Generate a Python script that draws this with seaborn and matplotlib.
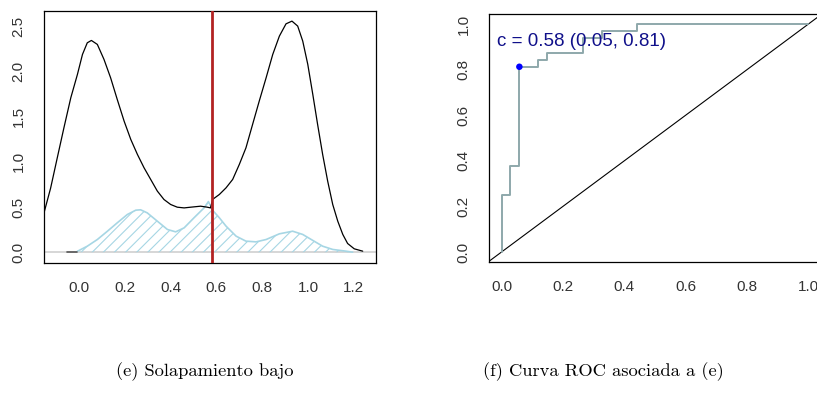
import numpy as np
import pandas as pd
import matplotlib
matplotlib.use("Agg")
import matplotlib.pyplot as plt
import seaborn as sns

# ---------------- data ----------------
# Left panel: black density curve
dens_x = [-0.153, -0.124, -0.095, -0.066, -0.036, -0.007, 0.015, 0.036, 0.054, 0.080,
          0.109, 0.138, 0.167, 0.197, 0.226, 0.255, 0.284, 0.313, 0.342, 0.371,
          0.400, 0.429, 0.459, 0.488, 0.531, 0.560, 0.574, 0.584, 0.613, 0.642,
          0.671, 0.700, 0.729, 0.758, 0.787, 0.817, 0.846, 0.875, 0.904, 0.930,
          0.955, 0.977, 0.999, 1.021, 1.042, 1.064, 1.086, 1.108, 1.130, 1.152,
          1.173, 1.202, 1.239]
dens_y = [0.435, 0.710, 1.045, 1.377, 1.709, 1.968, 2.189, 2.318, 2.344, 2.300,
          2.134, 1.930, 1.690, 1.450, 1.248, 1.082, 0.934, 0.805, 0.676, 0.583,
          0.528, 0.498, 0.490, 0.498, 0.509, 0.498, 0.490, 0.585, 0.639, 0.712,
          0.805, 0.971, 1.155, 1.414, 1.672, 1.930, 2.189, 2.392, 2.528, 2.558,
          2.503, 2.337, 2.080, 1.746, 1.414, 1.082, 0.786, 0.528, 0.343, 0.196,
          0.096, 0.037, 0.011]

# Left panel: light-blue hatched density
blue_x = [-0.007, 0.036, 0.080, 0.124, 0.167, 0.211, 0.248, 0.269, 0.298, 0.342,
          0.386, 0.422, 0.459, 0.502, 0.546, 0.565, 0.584, 0.613, 0.642, 0.686,
          0.729, 0.773, 0.817, 0.875, 0.933, 0.977, 1.021, 1.064, 1.108, 1.166,
          1.195]
blue_y = [0.010, 0.066, 0.140, 0.232, 0.325, 0.417, 0.465, 0.469, 0.435, 0.343,
          0.251, 0.225, 0.269, 0.380, 0.490, 0.560, 0.462, 0.380, 0.288, 0.177,
          0.122, 0.114, 0.140, 0.203, 0.232, 0.196, 0.130, 0.066, 0.030, 0.011,
          0.000]

# short dark tail on the baseline (left)
tail_x = [-0.051, -0.007]
tail_y = [0.0, 0.0]

cutoff = 0.58

dens_xticks = [0.0, 0.2, 0.4, 0.6, 0.8, 1.0, 1.2]
dens_yticks = [0.0, 0.5, 1.0, 1.5, 2.0, 2.5]

# Right panel: ROC curve (step function)
roc_fpr = [0.0, 0.0, 0.029, 0.058, 0.119, 0.149, 0.266, 0.326, 0.442, 1.0]
roc_tpr = [0.0, 0.25, 0.375, 0.8125, 0.84375, 0.875, 0.9375, 0.96875, 1.0, 1.0]

opt_point_x = [0.058]
opt_point_y = [0.8125]
opt_label = "c = 0.58 (0.05, 0.81)"
opt_label_pos = (-0.015, 0.922)

roc_ticks = [0.0, 0.2, 0.4, 0.6, 0.8, 1.0]

captions = ["(e) Solapamiento bajo", "(f) Curva ROC asociada a (e)"]

# ---------------- style ----------------
sns.set_style("white")
plt.rcParams["font.family"] = ["Liberation Sans", "DejaVu Sans"]
plt.rcParams["hatch.color"] = "#a6d6e4"
plt.rcParams["hatch.linewidth"] = 0.8

W, H = 817, 400
fig = plt.figure(figsize=(W / 100, H / 100), dpi=100)

def px_axes(l, t, r, b):
    return [l / W, 1 - b / H, (r - l) / W, (b - t) / H]

ax1 = fig.add_axes(px_axes(44, 11, 376, 263))
ax2 = fig.add_axes(px_axes(489, 14, 821, 262))

tick_col = "#333333"
for ax in (ax1, ax2):
    for s in ax.spines.values():
        s.set_color("black")
        s.set_linewidth(0.9)
        s.set_visible(True)
    ax.tick_params(direction="out", length=5.8, width=0.7, color="#333333",
                   labelsize=11, labelcolor=tick_col, pad=7.5)
    ax.tick_params(axis="y", labelrotation=90)
    ax.grid(False)

# ---------- left panel ----------
ax1.axhline(0, color="#cfcfcf", lw=1.2, zorder=1)
ax1.fill_between(blue_x, 0, blue_y, facecolor="none", edgecolor="#a6d6e4",
                 hatch="///", linewidth=0, zorder=2)
sns.lineplot(x=blue_x, y=blue_y, sort=False, estimator=None, color="#a6d6e4",
             lw=1.2, ax=ax1, zorder=3)
sns.lineplot(x=tail_x, y=tail_y, sort=False, estimator=None, color="#555555",
             lw=1.2, ax=ax1, zorder=3)
sns.lineplot(x=dens_x, y=dens_y, sort=False, estimator=None, color="black",
             lw=0.9, ax=ax1, zorder=4)
ax1.axvline(cutoff, color="#b22222", lw=2.0, zorder=5)
ax1.set_xlim(-0.153, 1.297)
ax1.set_ylim(-0.12, 2.67)
ax1.set_xticks(dens_xticks)
ax1.set_xticklabels([f"{v:.1f}" for v in dens_xticks])
ax1.set_yticks(dens_yticks)
ax1.set_yticklabels([f"{v:.1f}" for v in dens_yticks], va="center")
ax1.set_xlabel("")
ax1.set_ylabel("")

# ---------- right panel ----------
ax2.axline((0, 0), slope=1, color="black", lw=0.8, zorder=2)
sns.lineplot(x=roc_fpr, y=roc_tpr, sort=False, estimator=None, color="#8ea8ab",
             lw=1.4, drawstyle="steps-post", ax=ax2, zorder=3)
sns.scatterplot(x=opt_point_x, y=opt_point_y, color="#0000ff", s=22,
                edgecolor="none", ax=ax2, zorder=4)
ax2.text(opt_label_pos[0], opt_label_pos[1], opt_label, color="#10108a",
         fontsize=13.5, ha="left", va="center", zorder=5)
ax2.set_xlim(-0.041, 1.041)
ax2.set_ylim(-0.044, 1.044)
ax2.set_xticks(roc_ticks)
ax2.set_xticklabels([f"{v:.1f}" for v in roc_ticks])
ax2.set_yticks(roc_ticks)
ax2.set_yticklabels([f"{v:.1f}" for v in roc_ticks], va="center")
ax2.set_xlabel("")
ax2.set_ylabel("")

# ---------- captions ----------
fig.text(205 / W, 1 - 372 / H, captions[0], family="cmr10", fontsize=13.3,
         ha="center", va="center", color="black")
fig.text(603 / W, 1 - 372 / H, captions[1], family="cmr10", fontsize=13.3,
         ha="center", va="center", color="black")

fig.savefig("out.png", dpi=100)
